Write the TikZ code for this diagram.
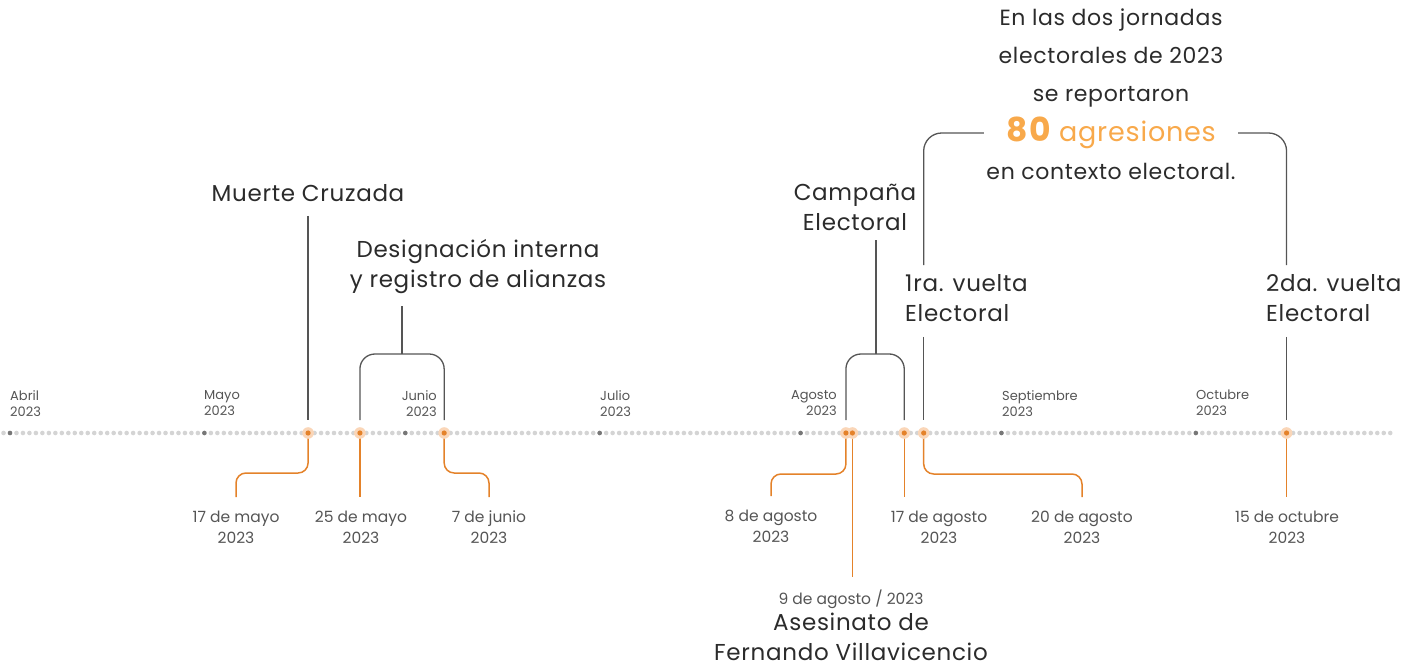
\documentclass[tikz,border=0pt]{standalone}
\usepackage{fontspec}
\setmainfont{Poppins}
\usetikzlibrary{calc}

\definecolor{ink}{HTML}{2B2B2B}
\definecolor{soft}{HTML}{555555}
\definecolor{tick}{HTML}{D4D4D4}
\definecolor{mdot}{HTML}{777777}
\definecolor{ora}{HTML}{E4822A}
\definecolor{halo}{HTML}{FAD6B8}
\definecolor{peach}{HTML}{F8A94B}

\tikzset{
  title/.style={
    font=\fontsize{23}{30}\selectfont\addfontfeature{LetterSpace=3},
    text=ink,align=center,inner sep=0pt,
  },
  datelabel/.style={
    font=\fontsize{15.5}{21}\selectfont,text=soft,align=center,inner sep=0pt,anchor=north,
  },
  monthlabel/.style={
    font=\fontsize{13}{16}\selectfont,text=soft,inner sep=0pt,
  },
  grayline/.style={draw=soft,line width=1.3pt},
  orangeline/.style={draw=ora,line width=1.5pt,rounded corners=10pt,shorten >=14pt},
}

\begin{document}
\begin{tikzpicture}[x=1pt,y=-1pt]
    \useasboundingbox (0,0) rectangle (1413,669);

    % one dot per day, April to October
    \foreach \i in {-1,...,213}
      \fill[tick] ({10+6.48*\i},433) circle (2.3);
    \foreach \i in {0,30,61,91,122,153,183}
      \fill[mdot] ({10+6.48*\i},433) circle (2.3);

    \node[monthlabel,anchor=north west,align=left]  (abril)  at (10,390)   {Abril\\2023};
    \node[monthlabel,anchor=north west,align=left]  (mayo)   at (204,390)  {Mayo\\2023};
    \node[monthlabel,anchor=north east,align=right] (junio)  at (437,390)  {Junio\\2023};
    \node[monthlabel,anchor=north west,align=left]  (julio)  at (600,390)  {Julio\\2023};
    \node[monthlabel,anchor=north east,align=right] (agosto) at (837,390)  {Agosto\\2023};
    \node[monthlabel,anchor=north west,align=left]  (sept)   at (1002,390) {Septiembre\\2023};
    \node[monthlabel,anchor=north west,align=left]  (oct)    at (1196,390) {Octubre\\2023};

    \foreach \n/\d in {e17may/46,e25may/54,e7jun/67,e8aug/129,e9aug/130,e17aug/138,e20aug/141,e15oct/197}
      \coordinate (\n) at ({10+6.48*\d},433);

    % dates below the line
    \node[datelabel] (l17may) at (236,511)  {17 de mayo\\2023};
    \node[datelabel] (l25may) at (361,511)  {25 de mayo\\2023};
    \node[datelabel] (l7jun)  at (489,510)  {7 de junio\\2023};
    \node[datelabel] (l8aug)  at (771,510)  {8 de agosto\\2023};
    \node[datelabel] (l9aug)  at (851,590)  {9 de agosto / 2023};
    \node[datelabel] (l17aug) at (939,511)  {17 de agosto\\2023};
    \node[datelabel] (l20aug) at (1082,511) {20 de agosto\\2023};
    \node[datelabel] (l15oct) at (1287,511) {15 de octubre\\2023};

    \draw[orangeline] (e17may) -- ++(0,40) -| (l17may.north);
    \draw[orangeline] (e25may) -- (e25may |- l25may.north);
    \draw[orangeline,shorten >=13pt] (e7jun) -- ++(0,40) -| (l7jun.north);
    \draw[orangeline] (e8aug) -- ++(0,41) -| (l8aug.north);
    \draw[orangeline,shorten >=13pt] (e9aug) -- (e9aug |- l9aug.north);
    \draw[orangeline] (e17aug) -- (e17aug |- l17aug.north);
    \draw[orangeline] (e20aug) -- ++(0,41) -| (l20aug.north);
    \draw[orangeline] (e15oct) -- (e15oct |- l15oct.north);

    \foreach \n in {e17may,e25may,e7jun,e8aug,e9aug,e17aug,e20aug,e15oct}
      \fill[halo] (\n) circle (5.8);
    \foreach \n in {e17may,e25may,e7jun,e8aug,e9aug,e17aug,e20aug,e15oct}
      \fill[ora] (\n) circle (2.6);

    \node[title] (asesinato) at (851,637) {Asesinato de\\Fernando Villavicencio};

    % events above the line
    \node[title] (muerte) at (308,193) {Muerte Cruzada};
    \draw[grayline,shorten <=14pt,shorten >=13pt] (muerte.south -| e17may) -- (e17may);

    \node[title] (desig) at (478,267) {Designación interna\\y registro de alianzas};
    \coordinate (djoin) at (402,354);
    \draw[grayline,shorten <=12pt] (desig.south -| djoin) -- (djoin);
    \draw[grayline,rounded corners=15pt] ([yshift=13pt]e25may) |- (djoin) -| ([yshift=13pt]e7jun);

    \node[title] (campana) at (855,207) {Campaña\\Electoral};
    \coordinate (cjoin) at (876,354);
    \draw[grayline,shorten <=10pt] (campana.south -| cjoin) -- (cjoin);
    \draw[grayline,rounded corners=15pt] ([yshift=13pt]e8aug) |- (cjoin) -| ([yshift=13pt]e17aug);

    \node[title,anchor=west,align=left] (vuelta1) at (905,298) {1ra. vuelta\\Electoral};
    \draw[grayline,shorten <=15pt,shorten >=13pt] (vuelta1.south -| e20aug) -- (e20aug);
    \node[title,anchor=west,align=left] (vuelta2) at (1266,298) {2da. vuelta\\Electoral};
    \draw[grayline,shorten <=15pt,shorten >=13pt] (vuelta2.south -| e15oct) -- (e15oct);

    % summary
    \node[title,font=\fontsize{22}{38}\selectfont\addfontfeature{LetterSpace=3}] (intro) at (1111,58)
      {En las dos jornadas\\electorales de 2023\\se reportaron};
    \node[title,text=peach,inner xsep=22pt,font=\fontsize{27}{30}\selectfont\addfontfeature{LetterSpace=3}] (agres) at (1111,133)
      {{\bfseries\fontsize{33}{33}\selectfont\addfontfeature{LetterSpace=6}80} agresiones};
    \node[title,font=\fontsize{22}{30}\selectfont\addfontfeature{LetterSpace=3}] (contexto) at (1111,171) {en contexto electoral.};

    \draw[grayline,rounded corners=18pt,shorten <=9pt] (vuelta1.north -| e20aug) |- (agres.west);
    \draw[grayline,rounded corners=18pt,shorten >=9pt] (agres.east) -| (vuelta2.north -| e15oct);
\end{tikzpicture}
\end{document}
